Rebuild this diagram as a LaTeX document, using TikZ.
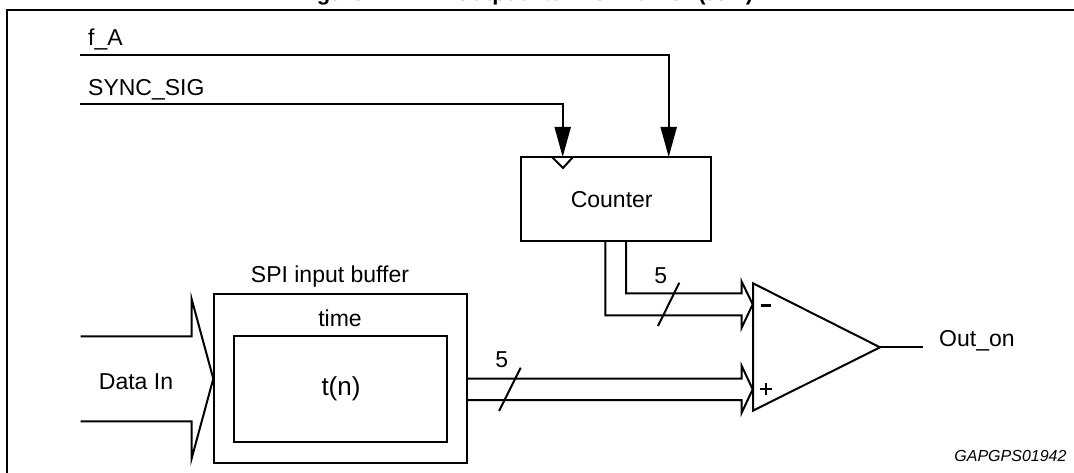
\documentclass[tikz,border=0pt]{standalone}
\usepackage{fontspec}
\setmainfont{Liberation Sans}
\usetikzlibrary{arrows.meta}
\tikzset{
  wire/.style={line width=2pt,line join=miter},
  lbl/.style={inner sep=0pt,font=\fontsize{23}{23}\selectfont},
  tipped/.style={wire,-{Triangle[length=30pt,width=16pt]}},
  boxed/.style={draw,wire,inner sep=0pt,outer sep=0pt,anchor=north west},
}
\begin{document}
\begin{tikzpicture}[x=1pt,y=-1pt]
\useasboundingbox (0,0) rectangle (1074,473);
\begin{scope}
\clip (0,0) rectangle (1074,9);
\node[inner sep=0pt,anchor=base west,font=\bfseries\fontsize{22}{22}\selectfont] (title) at (297,1) {\spaceskip=0.75em Figure 12.\hspace{43pt}Output turn-on time (tON)};
\end{scope}
\draw[line width=2.6pt] (7,473) -- (7,10) -- (1074,10);
% boxes
\node[boxed,minimum width=190.5pt,minimum height=84pt] (counter) at (520.7,157) {};
\node[lbl] (counterlbl) at (611.7,200) {Counter};
\node[boxed,minimum width=252.7pt,minimum height=169.3pt] (spi) at (214.3,294) {};
\node[boxed,minimum width=212.7pt,minimum height=106pt] (inner) at (234,336.3) {};
\node[lbl] (spilbl) at (330,277) {SPI input buffer};
\node[lbl] (timelbl) at (340,318) {time};
\node[lbl,font=\fontsize{26}{26}\selectfont] (tn) at (341,389) {t(n)};
\node[lbl] (datain) at (136,381.7) {Data In};
% clock inputs
\coordinate (fa0) at (80,55);
\coordinate (fa1) at (668.7,55);
\coordinate (sy0) at (80,104.5);
\coordinate (sy1) at (562.7,104.5);
\draw[tipped] (fa0) -- (fa1) -- (fa1 |- counter.north);
\draw[tipped] (sy0) -- (sy1) -- (sy1 |- counter.north);
\node[lbl,anchor=west] (falbl) at (88,39) {f\_A};
\node[lbl,anchor=west] (sylbl) at (88,90) {SYNC\_SIG};
\draw[wire] (552,157) -- (563,168) -- (573,157);
% comparator
\coordinate (ca) at (753,283.3);
\coordinate (cb) at (753,410.7);
\coordinate (cc) at (880,347.3);
\coordinate (cout) at (923,347.3);
\draw[wire] (ca) -- (cc) -- (cb) -- cycle;
\draw[wire] (cc) -- (cout);
\node[lbl,anchor=west] (outlbl) at (939,341) {Out\_on};
\draw[line width=2.4pt] (760.7,305.3) -- (770.7,305.3);
\draw[line width=2.2pt] (765.7,383.3) -- (765.7,395.3) (759.7,389.3) -- (771.7,389.3);
% upper bus
\coordinate (b1) at (626,241);
\coordinate (b2) at (605.3,241);
\draw[wire] (b1 |- counter.south) |- (741.7,293.3) -- (741.7,281.7) -- (752.7,304.3) -- (741.7,327.7) -- (741.7,315.3) -| (b2 |- counter.south);
\draw[wire] (679.3,282.7) -- (658,326);
\node[lbl] (five1) at (660.7,276) {5};
% lower bus
\draw[wire] (spi.east |- 0,378.7) -- (741.7,378.7) -- (741.7,366) -- (752.7,389.3) -- (741.7,412.7) -- (741.7,400) -- (spi.east |- 0,400);
\draw[wire] (520.7,367.7) -- (499,411);
\node[lbl] (five2) at (501.7,360) {5};
% data in
\draw[wire] (80.7,336.3) -- (191.7,336.3) -- (191.7,299.3) -- (213.3,378.7) -- (191.7,458.3) -- (191.7,421.3) -- (80.7,421.3);
\node[inner sep=0pt,font=\itshape\fontsize{16}{16}\selectfont,anchor=east] (code) at (1066.7,456) {GAPGPS01942};
\end{tikzpicture}
\end{document}
